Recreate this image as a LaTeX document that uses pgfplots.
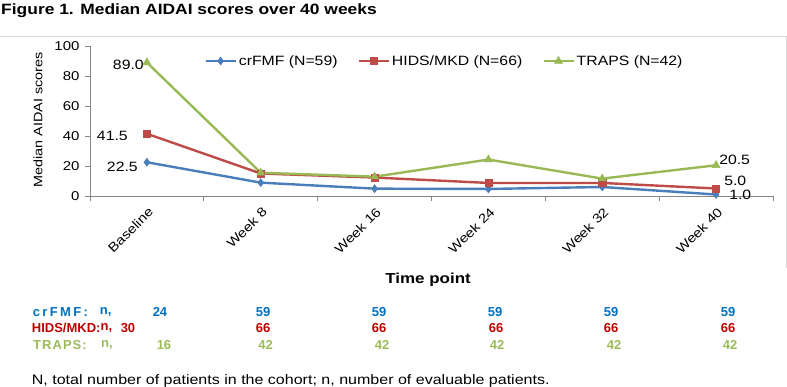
\documentclass[border=0pt]{standalone}
\usepackage{fontspec}
\setmainfont{Liberation Sans}[FakeStretch=1.17]
\newfontfamily\plainfont{Liberation Sans}
\usepackage{pgfplots}
\pgfplotsset{compat=1.18}
\definecolor{cblue}{HTML}{4A7EBB}
\definecolor{cred}{HTML}{BE4B48}
\definecolor{cgreen}{HTML}{98B954}
\definecolor{tblue}{HTML}{0070C0}
\definecolor{tred}{HTML}{C00000}
\definecolor{tgreen}{HTML}{9BBB59}
\definecolor{axgray}{HTML}{868686}
\definecolor{framegray}{HTML}{D9D9D9}
\newcommand{\fs}[1]{\fontsize{#1}{#1}\selectfont}
\begin{document}
\begin{tikzpicture}[x=1pt,y=1pt]
\useasboundingbox (0,0) rectangle (787,386);
\draw[framegray, line width=0.8pt] (0,350) -- (786,350) -- (786,118);
\node[anchor=base west, inner sep=0pt, font=\fs{14.9}\bfseries] at (1,371) {Figure 1. Median AIDAI scores over 40 weeks};
\begin{axis}[
  at={(90pt,190pt)}, anchor=south west,
  scale only axis, width=683pt, height=150pt,
  xmin=-0.5, xmax=5.5, ymin=0, ymax=100,
  axis x line=bottom, axis y line=left,
  axis line style={draw=axgray, line width=0.8pt, -},
  xtick={0,...,5},
  xticklabels={Baseline, Week 8, Week 16, Week 24, Week 32, Week 40},
  minor xtick={-0.5,0.5,...,5.5},
  ytick={0,20,...,100},
  tick align=outside,
  major tick length=5pt, minor tick length=5pt,
  major x tick style={draw=none},
  minor x tick style={draw=axgray, line width=0.8pt},
  ytick style={draw=axgray, line width=0.8pt},
  /pgf/number format/assume math mode=true,
  yticklabel style={font=\fs{12.8}, xshift=-2pt},
  xticklabel style={font=\fs{12.8}, rotate=45, anchor=east, yshift=-9pt},
  xlabel={\bfseries Time point},
  xlabel style={at={(axis description cs:0.495,-0.56)}, anchor=center, font=\fs{14.5}},
  ylabel={Median AIDAI scores},
  ylabel style={at={(axis description cs:-0.076,0.507)}, anchor=center, rotate=0, font=\fs{12.3}},
  legend style={at={(0.519,0.9)}, anchor=center, draw=none, fill=none, font=\fs{13.5}, inner sep=0pt,
    /tikz/every even column/.append style={column sep=18pt}},
  legend columns=3,
  legend cell align=left,
  legend image code/.code={\draw[mark repeat=2,mark phase=2,#1] plot coordinates {(0pt,0pt) (15pt,0pt) (30pt,0pt)};},
  clip=false,
]
\addplot[cblue, line width=2.4pt, mark=diamond*, mark size=4pt, mark options={solid, line width=0.5pt}]
  coordinates {(0,22.5)(1,8.9)(2,4.9)(3,4.7)(4,6.0)(5,1.0)};
\addlegendentry{crFMF (N=59)}
\addplot[cred, line width=2.4pt, mark=square*, mark size=3.6pt, mark options={solid, line width=0.5pt}]
  coordinates {(0,41.5)(1,15.0)(2,12.3)(3,8.7)(4,8.7)(5,5.0)};
\addlegendentry{HIDS/MKD (N=66)}
\addplot[cgreen, line width=2.4pt, mark=triangle*, mark size=4.6pt, mark options={solid, line width=0.5pt}]
  coordinates {(0,89.0)(1,15.5)(2,12.9)(3,24.3)(4,11.6)(5,20.5)};
\addlegendentry{TRAPS (N=42)}
\node[anchor=east, inner sep=0pt, font=\fs{13.5}, xshift=-3pt, yshift=-2.5pt] at (axis cs:0,89) {89.0};
\node[anchor=east, inner sep=0pt, font=\fs{13.5}, xshift=-19pt, yshift=-2pt] at (axis cs:0,41.5) {41.5};
\node[anchor=east, inner sep=0pt, font=\fs{13.5}, xshift=-9pt, yshift=-5pt] at (axis cs:0,22.5) {22.5};
\node[anchor=west, inner sep=0pt, font=\fs{13.5}, xshift=3pt, yshift=5pt] at (axis cs:5,20.5) {20.5};
\node[anchor=west, inner sep=0pt, font=\fs{13.5}, xshift=8pt, yshift=8pt] at (axis cs:5,5.0) {5.0};
\node[anchor=west, inner sep=0pt, font=\fs{13.5}, xshift=13pt, yshift=-0.5pt] at (axis cs:5,1.0) {1.0};
\end{axis}
% n rows
\begin{scope}[every node/.style={inner sep=0pt, font=\plainfont\fs{13}\bfseries}]
\node[anchor=west, tblue] at (32.7,74.3) {\addfontfeature{LetterSpace=18}crFMF:};
\node[anchor=east, tblue] at (111.7,74.3) {n,};
\node[anchor=west, tred] at (31.7,58) {HIDS/MKD:};
\node[anchor=east, tred] at (112.5,58) {n,};
\node[anchor=west, tgreen] at (33,41) {\addfontfeature{LetterSpace=8}TRAPS:};
\node[anchor=east, tgreen] at (113,41) {n,};
\foreach \x/\v in {160/24, 263/59, 379/59, 495/59, 611/59, 728/59}
  \node[tblue] at (\x,74.3) {\v};
\foreach \x/\v in {128/30, 263/66, 379/66, 496/66, 611/66, 728/66}
  \node[tred] at (\x,58) {\v};
\foreach \x/\v in {164/16, 265.5/42, 382/42, 497/42, 614/42, 730/42}
  \node[tgreen] at (\x,41) {\v};
\end{scope}
\node[anchor=base west, inner sep=0pt, font=\fs{13.7}] at (31.7,2) {N, total number of patients in the cohort; n, number of evaluable patients.};
\end{tikzpicture}
\end{document}
